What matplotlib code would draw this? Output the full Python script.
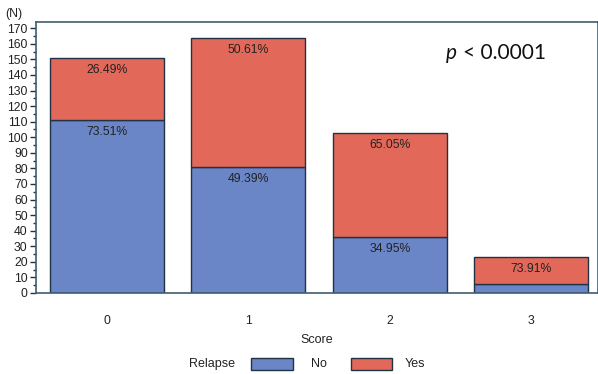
import matplotlib
matplotlib.use("Agg")
import matplotlib.pyplot as plt
from matplotlib.patches import Rectangle
from matplotlib.ticker import MultipleLocator

scores = ["0", "1", "2", "3"]
relapse_no = [111, 81, 36, 6]
relapse_yes = [40, 83, 67, 17]
pct_no = ["73.51%", "49.39%", "34.95%", ""]
pct_yes = ["26.49%", "50.61%", "65.05%", "73.91%"]

blue = "#6A86C6"
red = "#E2695A"
edge = "#1F3344"
frame = "#3E5E70"
txt = "#222222"

plt.rcParams["font.family"] = ["Liberation Sans", "DejaVu Sans"]

fig = plt.figure(figsize=(5.98, 3.74), dpi=100)
ax = fig.add_axes([0.0602, 0.2166, 0.9398, 0.7246])

x = list(range(len(scores)))
w = 0.805
ax.bar(x, relapse_no, width=w, color=blue, edgecolor=edge, linewidth=1.0)
ax.bar(x, relapse_yes, bottom=relapse_no, width=w, color=red, edgecolor=edge, linewidth=1.0)

off = 7.8
for i in x:
    total = relapse_no[i] + relapse_yes[i]
    ax.text(i, total - off, pct_yes[i], ha="center", va="center", fontsize=8.8, color=txt)
    if pct_no[i]:
        ax.text(i, relapse_no[i] - off, pct_no[i], ha="center", va="center", fontsize=8.8, color=txt)

ax.set_xlim(-0.5, 3.47)
ax.set_ylim(0, 174)
ax.yaxis.set_major_locator(MultipleLocator(10))
ax.yaxis.set_minor_locator(MultipleLocator(5))
ax.set_xticks(x)
ax.set_xticklabels(scores)
ax.tick_params(axis="y", which="major", length=4, width=1.0, color=edge, labelsize=8.8, pad=2, labelcolor=txt)
ax.tick_params(axis="y", which="minor", length=2.5, width=1.0, color=edge)
ax.tick_params(axis="x", length=0, labelsize=8.8, pad=16, labelcolor=txt)
for s in ax.spines.values():
    s.set_color(frame)
    s.set_linewidth(1.2)

ax.set_xlabel("Score", fontsize=9, labelpad=5, color=txt)
fig.text(0.008, 0.962, "(N)", fontsize=8.8, color=txt, va="center")

fig.text(0.745, 0.858, "p", fontsize=15, family="Lato", style="italic", va="center", color="#111111")
fig.text(0.774, 0.858, "< 0.0001", fontsize=15, family="Lato", va="center", color="#111111")

# legend row
ly = 0.027
fig.text(0.393, ly, "Relapse", fontsize=9, va="center", ha="right", color=txt)
fig.patches.append(Rectangle((0.42, ly - 0.017), 0.07, 0.034, transform=fig.transFigure,
                             facecolor=blue, edgecolor=edge, linewidth=1.0))
fig.text(0.52, ly, "No", fontsize=9, va="center", color=txt)
fig.patches.append(Rectangle((0.587, ly - 0.017), 0.068, 0.034, transform=fig.transFigure,
                             facecolor=red, edgecolor=edge, linewidth=1.0))
fig.text(0.677, ly, "Yes", fontsize=9, va="center", color=txt)

fig.savefig("out.png", dpi=100)
